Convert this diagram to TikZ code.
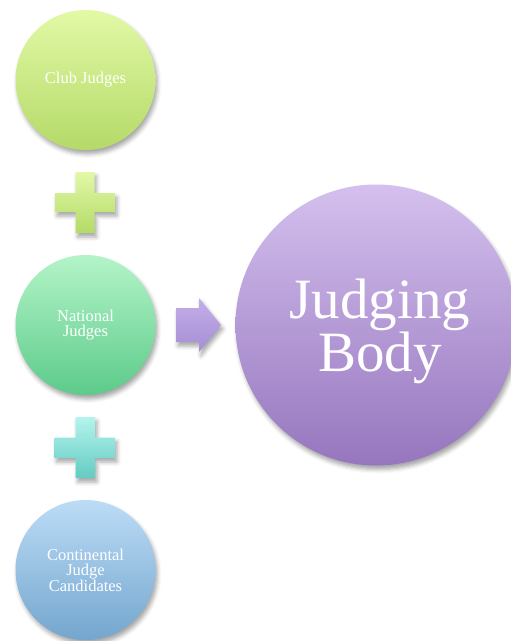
\documentclass[tikz,border=0pt]{standalone}
\usepackage{fontspec}
\setmainfont{Liberation Serif}
\usetikzlibrary{shadows.blur}
\definecolor{gTop}{HTML}{E2F9A6}
\definecolor{gBot}{HTML}{B4DA68}
\definecolor{nTop}{HTML}{B4F4C8}
\definecolor{nBot}{HTML}{5CCB8A}
\definecolor{tTop}{HTML}{B4F4EE}
\definecolor{tBot}{HTML}{62CCC2}
\definecolor{bTop}{HTML}{BCDCF6}
\definecolor{bBot}{HTML}{74A6CE}
\definecolor{pTop}{HTML}{D4C0EE}
\definecolor{pBot}{HTML}{9676BE}
\definecolor{aTop}{HTML}{C4AEE8}
\definecolor{aBot}{HTML}{A68ED4}
\tikzset{
  myshadow/.style={blur shadow={shadow xshift=2pt, shadow yshift=-4pt, shadow opacity=35, shadow blur radius=4pt}},
  smallcirc/.style={circle, minimum size=140pt, inner sep=0pt, text=white, align=center,
     font=\fontsize{16.5}{15.5}\selectfont, myshadow},
  bigcirc/.style={circle, minimum size=281pt, inner sep=0pt, text=white, align=center,
     font=\fontsize{57}{51}\selectfont, myshadow},
  plusshape/.style={myshadow}
}
\begin{document}
\begin{tikzpicture}[x=1pt,y=-1pt]
\useasboundingbox (0,0) rectangle (511,641);
% circles
\node[smallcirc, top color=gTop, bottom color=gBot] (club) at (85.5,80) {Club Judges};
\node[smallcirc, top color=nTop, bottom color=nBot] (national) at (85.5,325) {National\\Judges};
\node[smallcirc, top color=bTop, bottom color=bBot] (cont) at (85.5,570) {Continental\\Judge\\Candidates};
\node[bigcirc, top color=pTop, bottom color=pBot] (body) at (376,325) {};
\node[text=white, align=center, font=\fontsize{57}{51}\selectfont, inner sep=0pt] (bodytext) at (380,331) {Judging\\Body};
% plus 1
\path[plusshape, top color=gTop, bottom color=gBot]
  (75.5,172) -- (94.5,172) -- (94.5,193) -- (115,193) -- (115,212) -- (94.5,212) -- (94.5,233)
  -- (75.5,233) -- (75.5,212) -- (55,212) -- (55,193) -- (75.5,193) -- cycle;
% plus 2
\path[plusshape, top color=tTop, bottom color=tBot]
  (75.5,417) -- (95,417) -- (95,437.5) -- (115,437.5) -- (115,458) -- (95,458) -- (95,478)
  -- (75.5,478) -- (75.5,458) -- (54.5,458) -- (54.5,437.5) -- (75.5,437.5) -- cycle;
% arrow
\path[plusshape, top color=aTop, bottom color=aBot]
  (176,308) -- (199,308) -- (199,298) -- (221,325) -- (199,352) -- (199,342) -- (176,342) -- cycle;
\end{tikzpicture}
\end{document}
